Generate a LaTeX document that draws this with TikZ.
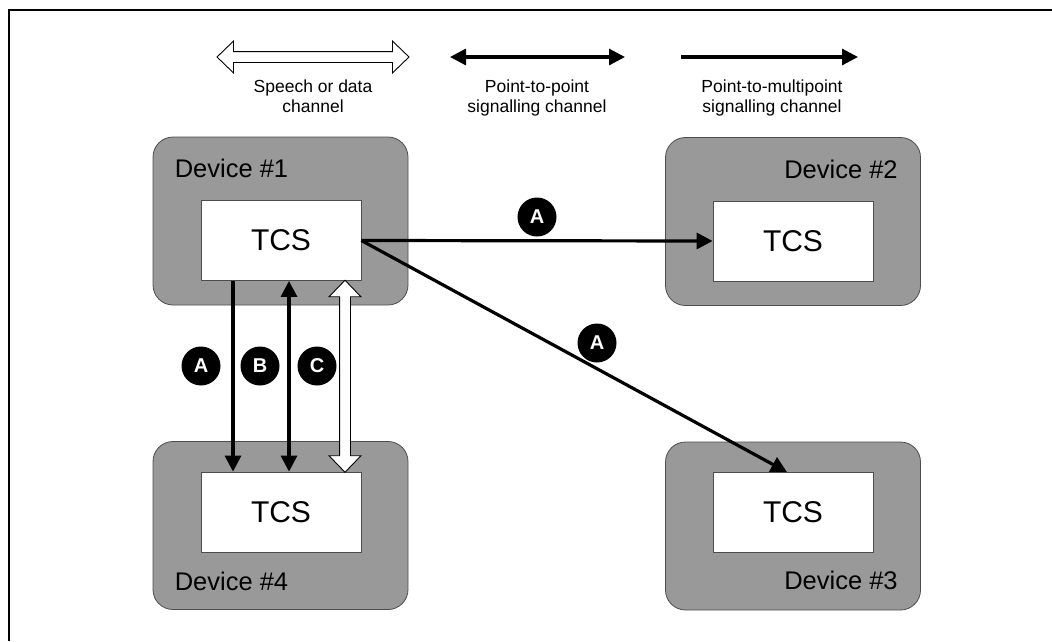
\documentclass[tikz,border=0pt]{standalone}
\usepackage{fontspec}
\setmainfont{Liberation Sans}
\usetikzlibrary{arrows.meta,calc,positioning,shapes.arrows}
\definecolor{devgray}{HTML}{999999}
\definecolor{edgegray}{HTML}{4D4D4D}

\begin{document}
\begin{tikzpicture}[x=1pt,y=-1pt,
  device/.style={draw=edgegray,fill=devgray,rounded corners=20pt,line width=0.8pt,
    minimum width=255pt,minimum height=168pt},
  tcs/.style={draw=edgegray,fill=white,line width=0.8pt,minimum width=160pt,
    minimum height=80pt,font=\fontsize{30}{36}\selectfont},
  devlabel/.style={inner sep=0pt,font=\fontsize{25.5}{30}\selectfont},
  tag/.style={circle,fill=black,text=white,minimum size=39pt,inner sep=0pt,
    font=\fontsize{20}{22}\selectfont\bfseries},
  sig/.style={line width=3.2pt,-{Triangle[length=16pt,width=16pt]}},
  sigboth/.style={line width=3.2pt,{Triangle[length=16pt,width=16pt]}-{Triangle[length=16pt,width=16pt]}},
  chan/.style={double arrow,draw,fill=white,line width=0.9pt,inner xsep=0pt,inner ysep=5pt,
    double arrow head extend=10.5pt,double arrow tip angle=88},
  legend/.style={align=center,anchor=north,inner sep=0pt,font=\fontsize{17.5}{20}\selectfont}]
  \useasboundingbox (0,0) rectangle (1052,641);
  \draw[line width=2pt] (9,641) -- (9,10.3) -- (1052,10.3);

  % legend
  \node[chan,minimum height=192pt] (speech) at (313,57) {};
  \node[legend] (speechtxt) at (313,80) {Speech or data\\channel};
  \coordinate (ptpL) at (450,57);
  \coordinate (ptpR) at (625,57);
  \draw[sigboth] (ptpL) -- (ptpR);
  \node[legend] (ptptxt) at (537,80) {Point-to-point\\signalling channel};
  \coordinate (ptmL) at (681,57);
  \coordinate (ptmR) at (858,57);
  \draw[sig] (ptmL) -- (ptmR);
  \node[legend] (ptmtxt) at (772,80) {Point-to-multipoint\\signalling channel};

  % devices
  \node[device] (dev1) at (280.5,221) {};
  \node[device] (dev2) at (793,221.5) {};
  \node[device] (dev3) at (793,526) {};
  \node[device] (dev4) at (280.5,525.5) {};
  \node[devlabel,anchor=base west] (lab1) at ($(dev1.north west)+(22,41)$) {Device \#1};
  \node[devlabel,anchor=base east] (lab2) at ($(dev2.north east)+(-23,41)$) {Device \#2};
  \node[devlabel,anchor=base east] (lab3) at ($(dev3.south east)+(-23,-21)$) {Device \#3};
  \node[devlabel,anchor=base west] (lab4) at ($(dev4.south west)+(22,-19)$) {Device \#4};
  \node[tcs] (tcs1) at (281,240.5) {TCS};
  \node[tcs] (tcs2) at (793,241) {TCS};
  \node[tcs] (tcs3) at (793,512.5) {TCS};
  \node[tcs] (tcs4) at (281,512) {TCS};

  % channels
  \draw[sig] (tcs1.east) -- (tcs2.west);
  \draw[sig] (tcs1.east) -- ([xshift=-6pt]tcs3.north);
  \draw[sig] ([xshift=-48pt]tcs1.south) -- ([xshift=-48pt]tcs4.north);
  \draw[sigboth] ([xshift=8pt]tcs1.south) -- ([xshift=8pt]tcs4.north);
  \node[chan,rotate=90,minimum height=192pt] (voice) at ($([xshift=64pt]tcs1.south)!0.5!([xshift=64pt]tcs4.north)$) {};

  \node[tag] (tagA1) at (537,217) {A};
  \node[tag] (tagA2) at (597,343) {A};
  \node[tag] (tagA3) at (201,366) {A};
  \node[tag] (tagB) at (260,366) {B};
  \node[tag] (tagC) at (317,366) {C};
\end{tikzpicture}
\end{document}
